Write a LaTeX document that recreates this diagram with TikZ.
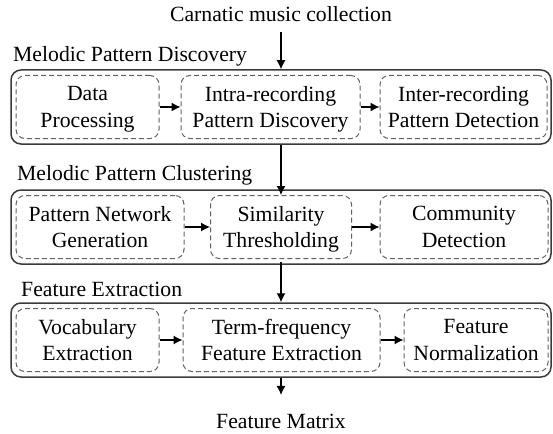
\documentclass[tikz,border=0pt]{standalone}
\usepackage{fontspec}
\setmainfont{Liberation Serif}
\definecolor{stagegray}{rgb}{0.23, 0.23, 0.23}
\definecolor{taskgray}{rgb}{0.38, 0.38, 0.38}
\usetikzlibrary{arrows.meta,positioning}

\tikzset{
  txt/.style={font=\fontsize{21.7}{26.7}\selectfont},
  stage/.style={draw=stagegray, line width=1.5pt, rounded corners=10pt,
    minimum width=540pt, minimum height=74pt, inner sep=0pt},
  stagelabel/.style={txt, anchor=base west, inner sep=0pt},
  task/.style={txt, draw=taskgray, line width=1pt, dash pattern={on 5pt off 3pt},
    rounded corners=9pt, minimum height=63pt, inner sep=2pt, align=center, text depth=0pt},
  arr/.style={-{Latex[length=9pt,width=9pt]}, line width=1.2pt, black},
}

\begin{document}
\begin{tikzpicture}[x=1pt,y=1pt,yscale=-1]
	\useasboundingbox (0,0) rectangle (553,433);
	
	% input and output
	\node (carnatic) [txt, anchor=base, inner sep=0pt] at (281,22) {Carnatic music collection};
	\node (matrix) [txt, anchor=base, inner sep=0pt] at (281,428) {Feature Matrix};
	
	% stage boxes
	\node (mpd) [stage] at (281,107) {};
	\node (mpc) [stage] at (281,227) {};
	\node (fe) [stage] at (281,340) {};
	\node [stagelabel] at (13,62) {Melodic Pattern Discovery};
	\node [stagelabel] at (17,180) {Melodic Pattern Clustering};
	\node [stagelabel] at (21,296) {Feature Extraction};
	
	% Melodic Pattern Discovery
	\node (dp) [task, minimum width=143pt] at (87.5,107) {Data\\Processing};
	\node (intra) [task, minimum width=179pt] at (270.5,107) {Intra-recording\\Pattern Discovery};
	\node (inter) [task, minimum width=167pt] at (463.5,107) {Inter-recording\\Pattern Detection};
	
	% Melodic Pattern Clustering
	\node (png) [task, minimum width=168pt] at (100,227) {Pattern Network\\Generation};
	\node (sim) [task, minimum width=141pt] at (281,227) {Similarity\\Thresholding};
	\node (comm) [task, minimum width=168pt] at (464,227) {Community\\Detection};
	
	% Feature Extraction
	\node (vocab) [task, minimum width=143pt] at (87.5,340) {Vocabulary\\Extraction};
	\node (tf) [task, minimum width=197pt] at (281.5,340) {Term-frequency\\Feature Extraction};
	\node (norm) [task, minimum width=144pt] at (476,340) {Feature\\Normalization};
	
	% arrows
	\draw [arr] (dp) -- (intra);
	\draw [arr] (intra) -- (inter);
	\draw [arr] (png) -- (sim);
	\draw [arr] (sim) -- (comm);
	\draw [arr] (vocab) -- (tf);
	\draw [arr] (tf) -- (norm);
	\draw [arr, shorten <=10pt] (carnatic.south) -- (mpd.north);
	\draw [arr] (mpd.south) -- (sim.north);
	\draw [arr] ([yshift=3pt]sim.south) -- (fe.north);
	\draw [arr, shorten >=18.5pt] (fe.south) -- (matrix.north);
	
\end{tikzpicture}
\end{document}
